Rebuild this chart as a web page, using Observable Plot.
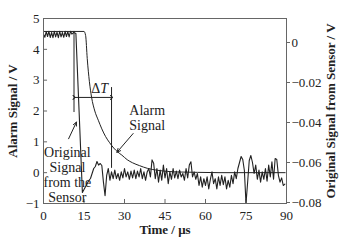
<!DOCTYPE html>
<html><head><meta charset="utf-8">
<script src="https://cdn.jsdelivr.net/npm/d3@7"></script>
<script src="https://cdn.jsdelivr.net/npm/@observablehq/plot@0.6"></script>
<style>body{margin:0;background:#fff} svg{display:block}</style>
</head><body><div id="chart"></div>
<script>
// ---- data ----
const xTicks = [0, 15, 30, 45, 60, 75, 90];
const leftTicks = [-1, 0, 1, 2, 3, 4, 5];
const rightTicks = [0, -0.02, -0.04, -0.06, -0.08];
const leftDomain = [-1, 5];
const rightDomain = [-0.0805, 0.012];

// Alarm signal (left axis, V)
const alarmT = [0, 15.0, 15.6, 16.2, 17.0, 17.8, 19.0, 20.3, 21.6, 23.0, 24.5, 26.0, 27.5, 29.0, 31.0, 33.0, 35.5, 38.5, 42.0, 46.0, 51.0, 57.0, 65.0, 75.0, 89.5];
const alarmV = [4.58, 4.58, 4.45, 3.70, 2.95, 2.45, 2.00, 1.70, 1.42, 1.17, 0.97, 0.80, 0.67, 0.57, 0.42, 0.32, 0.23, 0.14, 0.08, 0.04, 0.02, 0.01, 0.0, 0.0, 0.0];

// Original signal from the sensor (right axis, V)
const sensorT = [0,0.5,1,1.5,2,2.5,3,3.5,4,4.5,5,5.5,6,6.5,7,7.5,8,8.5,9,9.5,10,10.5,11.2,12.0,13.2,14.4,
15.0,15.6,16.2,16.8,17.4,18.0,18.6,19.2,19.8,20.4,21.0,21.6,22.2,22.8,23.4,24.0,24.6,25.2,25.8,26.4,27.0,27.6,28.2,28.8,29.4,
30.0,30.6,31.2,31.8,32.4,33.0,33.6,34.2,34.8,35.4,36.0,36.6,37.2,37.8,38.4,39.0,39.6,40.2,40.8,41.4,42.0,42.6,43.2,43.8,44.4,
45.0,45.6,46.2,46.8,47.4,48.0,48.6,49.2,49.8,50.4,51.0,51.6,52.2,52.8,53.4,54.0,54.6,55.2,55.8,56.4,57.0,57.6,58.2,58.8,59.4,
60.0,60.6,61.2,61.8,62.4,63.0,63.6,64.2,64.8,65.4,66.0,66.6,67.2,67.8,68.4,69.0,69.6,70.2,70.8,71.4,72.0,72.6,73.2,73.8,74.4,
75.0,75.6,76.2,76.8,77.4,78.0,78.6,79.2,79.8,80.4,81.0,81.6,82.2,82.8,83.4,84.0,84.6,85.2,85.8,86.4,87.0,87.6,88.2,88.8,89.4];
const sensorV = [0.0042,0.0026,0.0055,0.0030,0.0056,0.0025,0.0050,0.0024,0.0056,0.0028,0.0052,0.0024,0.0056,0.0028,0.0050,0.0026,0.0056,0.0030,0.0054,0.0028,0.0056,0.0042,0.0050,0.0045,-0.0350,-0.0750,
-0.0735,-0.0720,-0.0705,-0.0690,-0.0680,-0.0655,-0.0630,-0.0620,-0.0595,-0.0613,-0.0605,-0.0615,-0.0698,-0.0766,-0.0664,-0.0630,-0.0689,-0.0647,-0.0681,-0.0638,-0.0681,-0.0655,-0.0689,-0.0647,-0.0677,
-0.0630,-0.0672,-0.0647,-0.0684,-0.0643,-0.0677,-0.0638,-0.0681,-0.0643,-0.0672,-0.0630,-0.0681,-0.0647,-0.0689,-0.0647,-0.0630,-0.0672,-0.0587,-0.0604,-0.0681,-0.0630,-0.0698,-0.0638,-0.0689,-0.0613,
-0.0677,-0.0630,-0.0706,-0.0647,-0.0684,-0.0630,-0.0677,-0.0643,-0.0681,-0.0638,-0.0672,-0.0655,-0.0689,-0.0630,-0.0677,-0.0613,-0.0596,-0.0672,-0.0647,-0.0684,-0.0655,-0.0715,-0.0672,-0.0723,-0.0681,
-0.0715,-0.0672,-0.0732,-0.0684,-0.0647,-0.0706,-0.0681,-0.0732,-0.0672,-0.0715,-0.0664,-0.0711,-0.0672,-0.0732,-0.0689,-0.0723,-0.0664,-0.0706,-0.0647,-0.0681,-0.0630,-0.0600,-0.0570,-0.0585,-0.0640,
-0.0805,-0.0700,-0.0590,-0.0565,-0.0600,-0.0655,-0.0613,-0.0684,-0.0638,-0.0698,-0.0647,-0.0684,-0.0630,-0.0694,-0.0613,-0.0672,-0.0596,-0.0684,-0.0580,-0.0585,-0.0664,-0.0698,-0.0677,-0.0715,-0.0708];

// ΔT marker (µs) and its extents (left-axis V)
const deltaStart = 11.3, deltaEnd = 25.2;
const deltaStartSpan = [4.58, 1.95];
const deltaEndSpan = [2.76, 0.14];
const deltaArrowLevel = 2.44;

// ---- helpers ----
const toLeft = r => leftDomain[0] + (r - rightDomain[0]) / (rightDomain[1] - rightDomain[0]) * (leftDomain[1] - leftDomain[0]);
const fromLeft = v => rightDomain[0] + (v - leftDomain[0]) / (leftDomain[1] - leftDomain[0]) * (rightDomain[1] - rightDomain[0]);

const alarm = alarmT.map((t, i) => ({t, v: alarmV[i]}));
const sensor = sensorT.map((t, i) => ({t, v: toLeft(sensorV[i])}));

const ink = "#222";
const font = "Liberation Serif, Times New Roman, serif";

const chart = Plot.plot({
  width: 360, height: 247,
  marginTop: 18, marginRight: 74, marginBottom: 44, marginLeft: 43,
  style: {fontFamily: font, fontSize: "13px", background: "#fff", color: ink},
  x: {domain: [0, 90]},
  y: {domain: leftDomain},
  marks: [
    // inward ticks (bottom, left)
    Plot.ruleX(xTicks, {x: d => d, y1: leftDomain[0], y2: leftDomain[0] + 0.13, stroke: "#666"}),
    Plot.ruleY(leftTicks, {y: d => d, x1: 0, x2: 1.5, stroke: "#666"}),
    // data
    Plot.line(sensor, {x: "t", y: "v", stroke: ink, strokeWidth: 1.1}),
    Plot.line(alarm, {x: "t", y: "v", stroke: ink, strokeWidth: 1, curve: "monotone-x"}),
    // ΔT annotation
    Plot.ruleX([deltaStart], {x: d => d, y1: deltaStartSpan[0], y2: deltaStartSpan[1], stroke: ink, strokeWidth: 1}),
    Plot.ruleX([deltaEnd], {x: d => d, y1: deltaEndSpan[0], y2: deltaEndSpan[1], stroke: ink, strokeWidth: 1}),
    Plot.link([{a: deltaStart, b: deltaEnd}], {x1: "a", x2: "b", y1: deltaArrowLevel, y2: deltaArrowLevel, stroke: ink, strokeWidth: 1, markerStart: "arrow", markerEnd: "arrow"}),
    Plot.text(["Δ"], {x: 21.0, y: 2.72, textAnchor: "end", fontSize: 14, fill: ink}),
    Plot.text(["T"], {x: 21.0, y: 2.72, textAnchor: "start", fontSize: 14, fontStyle: "italic", fill: ink}),
    // label annotations
    Plot.text(["Alarm\nSignal"], {x: 38.4, y: 1.77, fontSize: 14, lineHeight: 1.07, fill: ink}),
    Plot.arrow([{x1: 33.2, y1: 1.27, x2: 27.2, y2: 0.66}], {x1: "x1", y1: "y1", x2: "x2", y2: "y2", stroke: ink, strokeWidth: 1, headLength: 6, headAngle: 50}),
    Plot.text(["Original\nSignal\nfrom the\nSensor"], {x: 8.85, y: -0.066, fontSize: 14, lineHeight: 1.07, fill: ink}),
    Plot.arrow([{x1: 9.3, y1: 1.10, x2: 12.2, y2: 1.64}], {x1: "x1", y1: "y1", x2: "x2", y2: "y2", stroke: ink, strokeWidth: 1, headLength: 6, headAngle: 50}),
    // frame and axes
    Plot.frame({stroke: "#666"}),
    Plot.axisX({ticks: xTicks, tickSize: 0, tickPadding: 7, label: null, fontSize: 13, tickFormat: d => d3.format("d")(d)}),
    Plot.axisY({ticks: leftTicks, tickSize: 0, tickPadding: 4, label: null, fontSize: 13, tickFormat: d => d3.format("d")(d)}),
    Plot.axisY({anchor: "right", ticks: rightTicks.map(toLeft), tickSize: 3, tickPadding: 2, stroke: "#666", label: null, fontSize: 13,
      tickFormat: d => { const r = Math.round(fromLeft(d) * 100) / 100; return r === 0 ? "0" : d3.format(".2f")(r); }}),
    // axis titles
    Plot.text(["Alarm Signal / V"], {frameAnchor: "left", rotate: -90, dx: -31, textAnchor: "middle", fontWeight: "bold", fontSize: 13, fill: ink}),
    Plot.text(["Original Signal from Sensor / V"], {frameAnchor: "right", rotate: -90, dx: 44, textAnchor: "middle", fontWeight: "bold", fontSize: 13, fill: ink}),
    Plot.text(["Time / μs"], {frameAnchor: "bottom", dy: 30, textAnchor: "middle", fontWeight: "bold", fontSize: 13, fill: ink})
  ]
});
document.getElementById("chart").append(chart);
</script>
</body></html>
